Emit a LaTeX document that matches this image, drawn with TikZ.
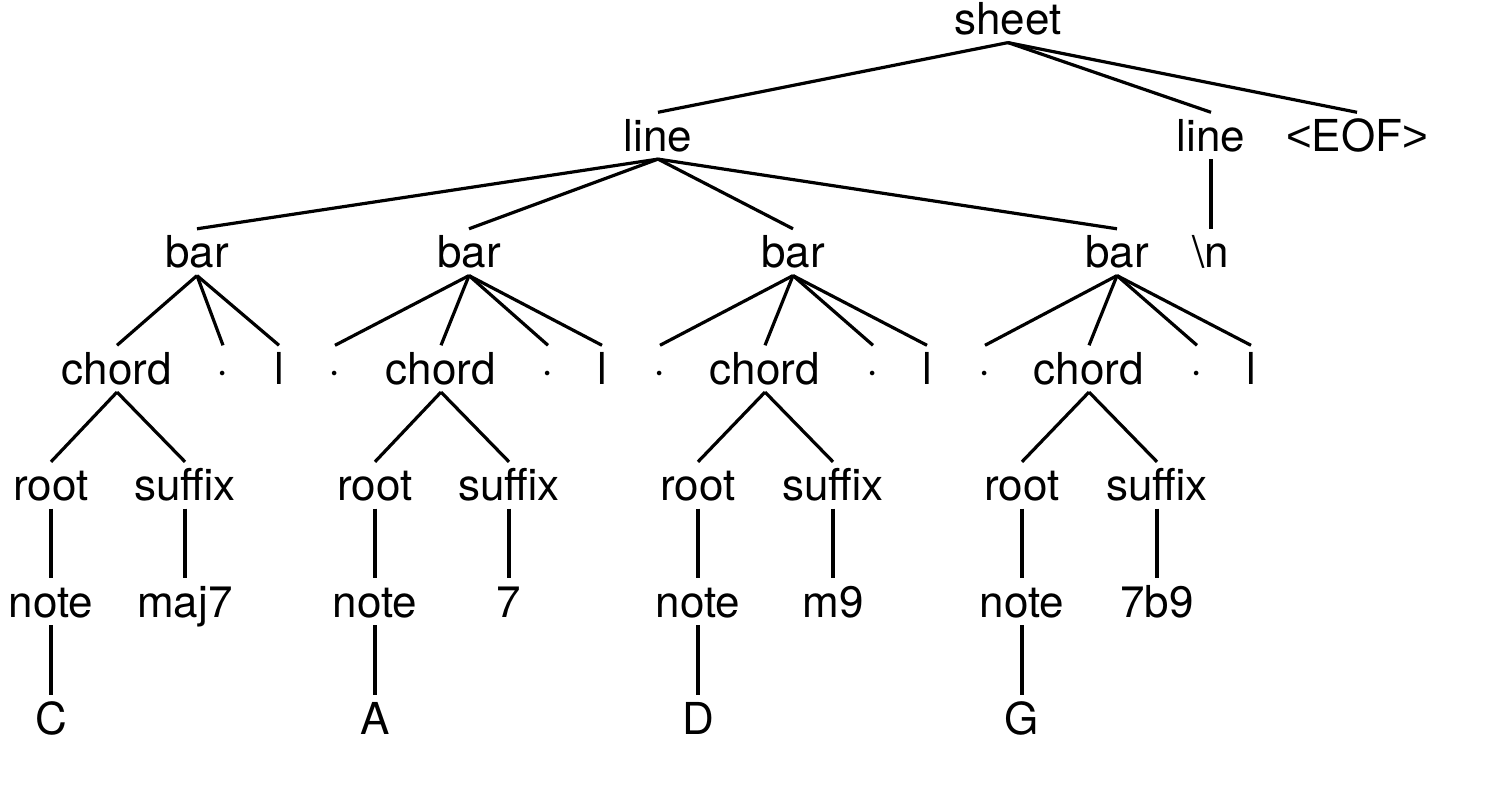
\documentclass[tikz,border=0pt]{standalone}
\usepackage{fontspec}
\setmainfont{TeX Gyre Heros}
\newfontfamily\altsans{Liberation Sans}
\begin{document}
\begin{tikzpicture}[x=0.5pt,y=-0.5pt,
  lbl/.style={anchor=base,inner xsep=0pt,inner ysep=3.6pt,text height=15.8pt,text depth=0pt,font=\fontsize{22}{26}\selectfont},
  edge/.style={line width=1.6pt}]
\useasboundingbox (0,0) rectangle (1496,786);
\fill[white] (0,0) rectangle (1496,786);
% rows
\def\ra{35}\def\rb{151.5}\def\rc{268}\def\rd{384.5}\def\re{501}\def\rf{617.5}\def\rg{734}
\node[lbl] (sheet) at (1008,\ra) {sheet};
\node[lbl] (lineA) at (658,\rb) {line};
\node[lbl] (lineB) at (1211,\rb) {line};
\node[lbl] (eof) at (1357,\rb) {{\altsans <}EOF{\altsans >}};
\node[lbl] (barA) at (197,\rc) {bar};
\node[lbl] (barB) at (469,\rc) {bar};
\node[lbl] (barC) at (793,\rc) {bar};
\node[lbl] (barD) at (1117,\rc) {bar};
\node[lbl] (nl) at (1211,\rc) {\textbackslash n};
% row 3
\node[lbl] (chA) at (117,\rd) {chord};
\node[lbl] (dA1) at (223,\rd) {·};
\node[lbl] (lA) at (279,\rd) {l};
\node[lbl] (dB0) at (335,\rd) {·};
\node[lbl] (chB) at (441,\rd) {chord};
\node[lbl] (dB1) at (548,\rd) {·};
\node[lbl] (lB) at (602,\rd) {l};
\node[lbl] (dC0) at (660,\rd) {·};
\node[lbl] (chC) at (765,\rd) {chord};
\node[lbl] (dC1) at (873,\rd) {·};
\node[lbl] (lC) at (927,\rd) {l};
\node[lbl] (dD0) at (985,\rd) {·};
\node[lbl] (chD) at (1089,\rd) {chord};
\node[lbl] (dD1) at (1197,\rd) {·};
\node[lbl] (lD) at (1251,\rd) {l};
% row 4
\node[lbl] (rootA) at (51,\re) {root};
\node[lbl] (sufA) at (185,\re) {suffix};
\node[lbl] (rootB) at (375,\re) {root};
\node[lbl] (sufB) at (509,\re) {suffix};
\node[lbl] (rootC) at (698,\re) {root};
\node[lbl] (sufC) at (833,\re) {suffix};
\node[lbl] (rootD) at (1022,\re) {root};
\node[lbl] (sufD) at (1157,\re) {suffix};
% row 5
\node[lbl] (noteA) at (51,\rf) {note};
\node[lbl] (valA) at (185,\rf) {maj7};
\node[lbl] (noteB) at (375,\rf) {note};
\node[lbl] (valB) at (509,\rf) {7};
\node[lbl] (noteC) at (698,\rf) {note};
\node[lbl] (valC) at (833,\rf) {m9};
\node[lbl] (noteD) at (1022,\rf) {note};
\node[lbl] (valD) at (1157,\rf) {7b9};
% row 6
\node[lbl] (letA) at (51,\rg) {C};
\node[lbl] (letB) at (375,\rg) {A};
\node[lbl] (letC) at (698,\rg) {D};
\node[lbl] (letD) at (1022,\rg) {G};
% edges
\foreach \p/\c in {sheet/lineA,sheet/lineB,sheet/eof,
  lineA/barA,lineA/barB,lineA/barC,lineA/barD,lineB/nl,
  barA/chA,barA/dA1,barA/lA,
  barB/dB0,barB/chB,barB/dB1,barB/lB,
  barC/dC0,barC/chC,barC/dC1,barC/lC,
  barD/dD0,barD/chD,barD/dD1,barD/lD,
  chA/rootA,chA/sufA,chB/rootB,chB/sufB,chC/rootC,chC/sufC,chD/rootD,chD/sufD,
  rootA/noteA,sufA/valA,rootB/noteB,sufB/valB,rootC/noteC,sufC/valC,rootD/noteD,sufD/valD,
  noteA/letA,noteB/letB,noteC/letC,noteD/letD}
  \draw[edge] (\p.south) -- (\c.north);
\end{tikzpicture}
\end{document}
